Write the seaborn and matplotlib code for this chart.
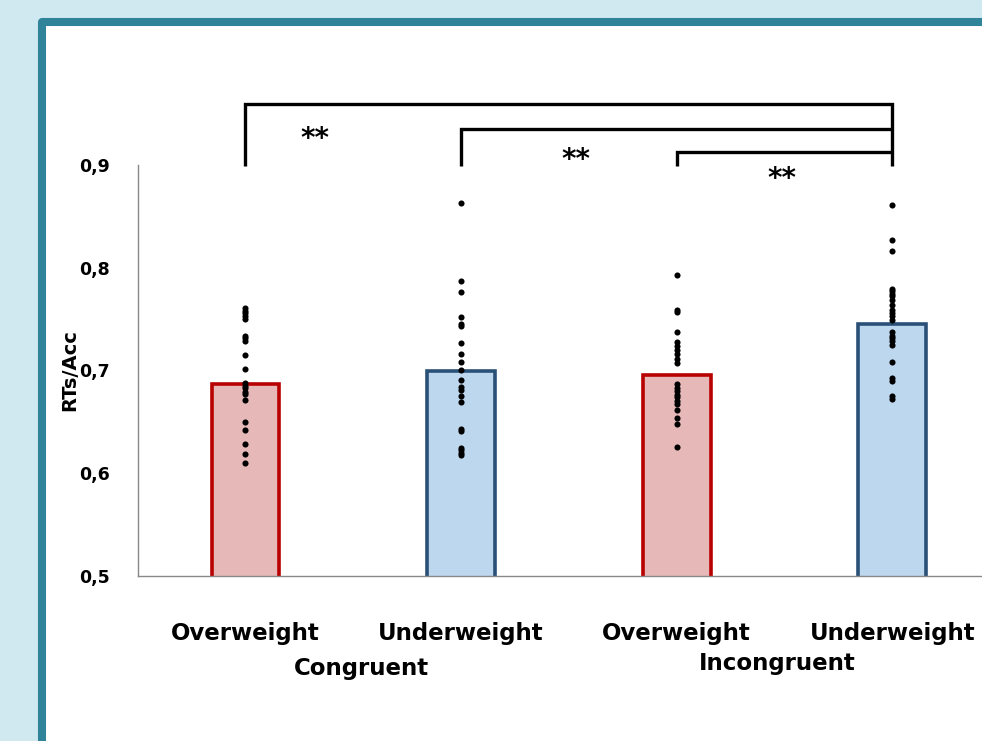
import matplotlib
matplotlib.use("Agg")
import matplotlib.pyplot as plt
import matplotlib.transforms as mtransforms
from matplotlib.patches import Rectangle
import seaborn as sns
import pandas as pd

# ---------------- data ----------------
conditions = ["C-Over", "C-Under", "I-Over", "I-Under"]
weight_labels = ["Overweight", "Underweight", "Overweight", "Underweight"]
group_labels = ["Congruent", "Incongruent"]
means = [0.687, 0.699, 0.696, 0.745]

pts_c_over = [0.761, 0.758, 0.756, 0.753, 0.750, 0.734, 0.732, 0.729, 0.715,
              0.701, 0.688, 0.685, 0.683, 0.679, 0.677, 0.671, 0.650, 0.642,
              0.628, 0.619, 0.610]
pts_c_under = [0.863, 0.787, 0.776, 0.752, 0.745, 0.743, 0.727, 0.716, 0.708,
               0.700, 0.691, 0.684, 0.681, 0.675, 0.669, 0.643, 0.641, 0.625,
               0.623, 0.620, 0.618]
pts_i_over = [0.793, 0.759, 0.757, 0.737, 0.728, 0.724, 0.720, 0.716, 0.711,
              0.707, 0.687, 0.683, 0.680, 0.676, 0.674, 0.670, 0.667, 0.662,
              0.654, 0.648, 0.626]
pts_i_under = [0.861, 0.827, 0.816, 0.779, 0.777, 0.774, 0.772, 0.769, 0.764,
               0.759, 0.756, 0.753, 0.749, 0.737, 0.734, 0.732, 0.729, 0.725,
               0.708, 0.693, 0.690, 0.675, 0.672]

fills = ["#e6b9b8", "#bdd7ee", "#e6b9b8", "#bdd7ee"]
edges = ["#b80000", "#2a5078", "#b80000", "#2a5078"]

df_bar = pd.DataFrame({"cond": conditions, "mean": means})
df_pts = pd.DataFrame({
    "cond": (["C-Over"] * len(pts_c_over) + ["C-Under"] * len(pts_c_under)
             + ["I-Over"] * len(pts_i_over) + ["I-Under"] * len(pts_i_under)),
    "val": pts_c_over + pts_c_under + pts_i_over + pts_i_under,
})

# ---------------- figure ----------------
sns.set_theme(style="white")
plt.rcParams["font.family"] = ["DejaVu Sans"]
plt.rcParams["font.weight"] = "bold"
plt.rcParams["text.color"] = "black"
plt.rcParams["axes.labelcolor"] = "black"

fig = plt.figure(figsize=(9.82, 7.41), dpi=100, facecolor="#d0e8ef")
panel = Rectangle((42 / 982, -0.3), 1.5, (741 - 22) / 741 + 0.3,
                  transform=fig.transFigure, facecolor="white",
                  edgecolor="#2f8499", linewidth=5.8, joinstyle="round",
                  zorder=-5)
fig.add_artist(panel)

ax = fig.add_axes([0.1402, 0.2227, 0.8782, 0.5547])
ax.set_facecolor("none")

sns.barplot(data=df_bar, x="cond", y="mean", hue="cond", order=conditions,
            hue_order=conditions, palette=fills, saturation=1, width=0.315,
            legend=False, ax=ax, zorder=2)
for patch, ec in zip(ax.patches, edges):
    patch.set_edgecolor(ec)
    patch.set_linewidth(2.6)

sns.stripplot(data=df_pts, x="cond", y="val", order=conditions, color="black",
              jitter=False, size=4.4, ax=ax, zorder=3)

ax.set_xlim(-0.5, 3.5)
ax.set_ylim(0.5, 0.9)
ax.set_yticks([0.5, 0.6, 0.7, 0.8, 0.9])
ax.set_yticklabels(["0,5", "0,6", "0,7", "0,8", "0,9"], fontsize=12.5,
                   fontweight="bold")
ax.set_xticks(range(4))
ax.set_xticklabels(weight_labels, fontsize=16.5, fontweight="bold")
ax.tick_params(axis="x", length=0, pad=33, colors="black")
ax.tick_params(axis="y", length=0, pad=20, colors="black")
ax.set_xlabel("")
ax.set_ylabel("RTs/Acc", fontsize=14, fontweight="bold", color="black")
ax.yaxis.set_label_coords(-0.068, 0.5)

for side in ["top", "right"]:
    ax.spines[side].set_visible(False)
for side in ["left", "bottom"]:
    ax.spines[side].set_color("#888888")
    ax.spines[side].set_linewidth(1.0)

# group labels
trans = mtransforms.blended_transform_factory(ax.transData, ax.transAxes)
ax.text(0.536, -0.224, group_labels[0], transform=trans, ha="center",
        va="center", fontsize=16.5, fontweight="bold", color="black")
ax.text(2.465, -0.212, group_labels[1], transform=trans, ha="center",
        va="center", fontsize=16.5, fontweight="bold", color="black")

# significance brackets
lw = 2.4
ax.plot([0, 0, 3, 3], [0.899, 0.959, 0.959, 0.899], color="black", lw=lw,
        clip_on=False, solid_joinstyle="miter", solid_capstyle="butt")
ax.plot([1, 1, 3], [0.899, 0.935, 0.935], color="black", lw=lw,
        clip_on=False, solid_joinstyle="miter", solid_capstyle="butt")
ax.plot([2, 2, 3], [0.899, 0.913, 0.913], color="black", lw=lw,
        clip_on=False, solid_joinstyle="miter", solid_capstyle="butt")
for sx, sy in [(0.322, 0.925), (1.533, 0.905), (2.488, 0.886)]:
    ax.text(sx, sy, "**", ha="center", va="center", fontsize=20,
            fontweight="bold", color="black", clip_on=False)

fig.savefig("out.png", dpi=100, facecolor=fig.get_facecolor())
